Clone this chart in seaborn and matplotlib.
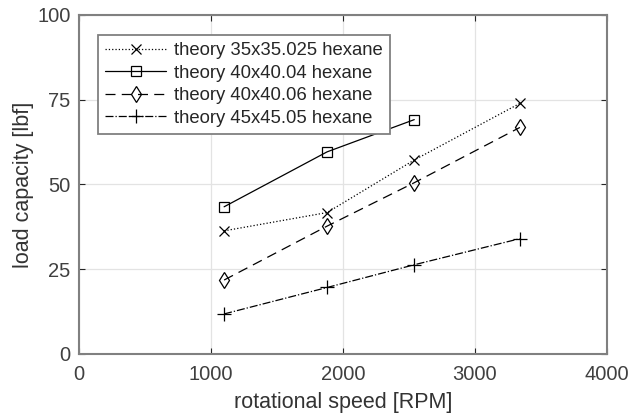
import matplotlib
matplotlib.use("Agg")
import matplotlib.pyplot as plt
import pandas as pd
import seaborn as sns

# rotational speed [RPM] for each theory curve
speed_35 = [1100, 1880, 2540, 3340]
load_35 = [36.3, 41.7, 57.2, 73.9]

speed_40_04 = [1100, 1880, 2540]
load_40_04 = [43.4, 59.6, 69.1]

speed_40_06 = [1100, 1880, 2540, 3340]
load_40_06 = [21.8, 37.7, 50.5, 66.8]

speed_45 = [1100, 1880, 2540, 3340]
load_45 = [11.8, 19.6, 26.3, 34.0]

LABELS = [
    "theory 35x35.025 hexane",
    "theory 40x40.04 hexane",
    "theory 40x40.06 hexane",
    "theory 45x45.05 hexane",
]
X_TICKS = [0, 1000, 2000, 3000, 4000]
Y_TICKS = [0, 25, 50, 75, 100]


def main() -> None:
    sns.set_theme(style="whitegrid")
    plt.rcParams["font.family"] = ["Liberation Sans", "DejaVu Sans"]

    series = [
        (speed_35, load_35, LABELS[0], ":", "x", 7),
        (speed_40_04, load_40_04, LABELS[1], "-", "s", 7),
        (speed_40_06, load_40_06, LABELS[2], (0, (8, 5)), "d", 8),
        (speed_45, load_45, LABELS[3], "-.", "+", 10),
    ]

    fig = plt.figure(figsize=(6.31, 4.13), dpi=100)
    ax = fig.add_axes([0.125, 0.143, 0.837, 0.821])

    for xs, ys, label, ls, mk, ms in series:
        df = pd.DataFrame({"speed": xs, "load": ys})
        sns.lineplot(data=df, x="speed", y="load", ax=ax, color="black", linewidth=0.9,
                     linestyle=ls, marker=mk, markersize=ms, markerfacecolor="none",
                     markeredgecolor="black", markeredgewidth=0.9, label=label)

    ax.set_xlim(0, 4000)
    ax.set_ylim(0, 100)
    ax.set_xticks(X_TICKS)
    ax.set_yticks(Y_TICKS)
    ax.set_xlabel("rotational speed [RPM]", fontsize=15.5, color="#333333", labelpad=6)
    ax.set_ylabel("load capacity [lbf]", fontsize=15.5, color="#333333", labelpad=2)
    ax.tick_params(axis="both", labelsize=14.5, labelcolor="#404040", direction="in",
                   length=4, width=0.8, color="#262626", top=True, right=True,
                   bottom=True, left=True)
    ax.tick_params(axis="x", pad=8)
    ax.tick_params(axis="y", pad=6)
    ax.grid(True, color="#e3e3e3", linewidth=0.9)
    for side in ax.spines.values():
        side.set_color("#808080")
        side.set_linewidth(1.5)

    leg = ax.legend(loc="upper left", bbox_to_anchor=(0.036, 0.941), fontsize=13.3,
                    frameon=True, fancybox=False, framealpha=1, edgecolor="#808080",
                    handlelength=3.3, handletextpad=0.4, borderpad=0.4,
                    labelspacing=0.3, borderaxespad=0)
    leg.get_frame().set_linewidth(1.3)
    for t in leg.get_texts():
        t.set_color("#262626")

    fig.savefig("out.png", dpi=100)
    plt.close(fig)


if __name__ == "__main__":
    main()
